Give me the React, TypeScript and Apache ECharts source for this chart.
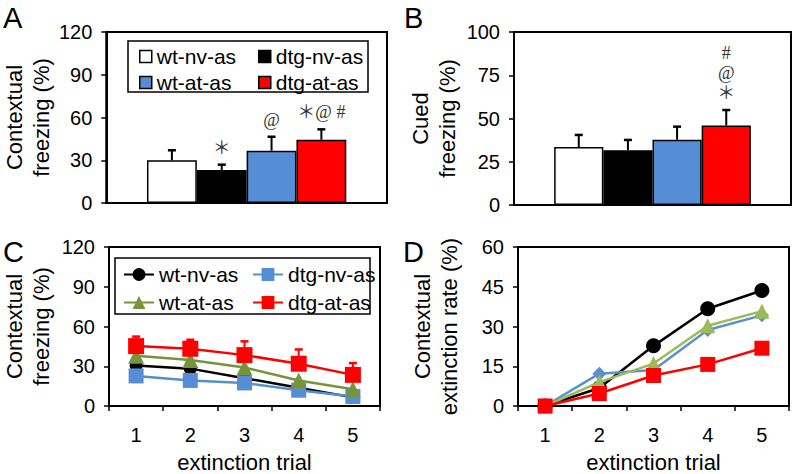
import React, { useEffect, useRef } from "react";
import * as echarts from "echarts";

const groups = ["wt-nv-as", "dtg-nv-as", "wt-at-as", "dtg-at-as"];
const barColors = ["#ffffff", "#000000", "#558ed5", "#ff0000"];
const contextualMean = [30, 23.2, 36.7, 44.4];
const contextualUpper = [37, 26.9, 46.5, 51.7];
const contextualMarks = ["", "＊", "@", "＊@ #"];
const cuedMean = [33.5, 31.6, 37.7, 46];
const cuedUpper = [40.5, 37.6, 45.3, 54.9];
const cuedMarks = ["", "", "", "#\n@\n＊"];

const trials = ["1", "2", "3", "4", "5"];
const freezeWtNv = [30.5, 28.2, 21, 13.8, 6.5];
const freezeDtgNv = [22.7, 19.3, 17.4, 11.9, 7.2];
const freezeWtAt = [37.9, 34.8, 29, 19.3, 12.6];
const freezeDtgAt = [45.2, 43.2, 38.4, 31.9, 23.5];
const freezeDtgAtUpper = [52.4, 50, 48.8, 42.7, 32.4];

const rateWtNv = [0, 6.8, 22.7, 36.7, 43.6];
const rateDtgNv = [0, 12.2, 13.6, 28.7, 34.2];
const rateWtAt = [0, 9.0, 16.0, 30.3, 35.8];
const rateDtgAt = [0, 4.7, 11.5, 15.7, 21.8];

const SANS = "Liberation Sans";
const SERIF = '"Liberation Serif", "Noto Sans CJK JP"';
const GAP = 0.29;

function barErrors(idx: number, means: number[], uppers: number[], marks: string[]) {
  return {
    type: "custom",
    xAxisIndex: idx,
    yAxisIndex: idx,
    z: 5,
    silent: true,
    data: means.map((m, i) => [0, m, uppers[i]]),
    renderItem: (params: any, api: any) => {
      const i = params.dataIndex;
      const base = api.coord([0, api.value(1)]);
      const top = api.coord([0, api.value(2)]);
      const band = api.size([1, 0])[0];
      const bw = (band * (1 - GAP)) / 4;
      const x = base[0] + (i - 1.5) * bw;
      const mark = marks[i];
      const children: any[] = [
        { type: "line", shape: { x1: x, y1: base[1], x2: x, y2: top[1] }, style: { stroke: "#000", lineWidth: 2 } },
        { type: "line", shape: { x1: x - 4, y1: top[1], x2: x + 4, y2: top[1] }, style: { stroke: "#000", lineWidth: 2.5 } },
      ];
      if (mark) {
        children.push({
          type: "text",
          style: {
            text: mark,
            x: x,
            y: top[1] - 7,
            align: "center",
            verticalAlign: "bottom",
            font: `18px ${SERIF}`,
            lineHeight: 20,
            fill: "#333",
          },
        });
      }
      return { type: "group", children };
    },
  };
}

function lineErrors(idx: number, means: number[], uppers: number[], color: string) {
  return {
    type: "custom",
    xAxisIndex: idx,
    yAxisIndex: idx,
    z: 1,
    silent: true,
    data: means.map((m, i) => [i, m, uppers[i]]),
    renderItem: (params: any, api: any) => {
      const base = api.coord([api.value(0), api.value(1)]);
      const top = api.coord([api.value(0), api.value(2)]);
      return {
        type: "group",
        children: [
          { type: "line", shape: { x1: base[0], y1: base[1], x2: base[0], y2: top[1] }, style: { stroke: color, lineWidth: 2 } },
          { type: "line", shape: { x1: base[0] - 4, y1: top[1], x2: base[0] + 4, y2: top[1] }, style: { stroke: color, lineWidth: 2.5 } },
        ],
      };
    },
  };
}

function yAxis(gridIndex: number, max: number, interval: number, name: string, nameGap: number) {
  return {
    type: "value",
    gridIndex,
    min: 0,
    max,
    interval,
    axisLine: { show: true, lineStyle: { color: "#000", width: 2 } },
    axisTick: { show: true, length: 5, lineStyle: { color: "#000", width: 1.5 } },
    axisLabel: { color: "#000", fontSize: 20, fontFamily: SANS, margin: 14 },
    splitLine: { show: false },
    name,
    nameLocation: "middle",
    nameGap,
    nameTextStyle: { fontSize: 22, lineHeight: 27, color: "#000", fontFamily: SANS },
  };
}

function xBarAxis(gridIndex: number) {
  return {
    type: "category",
    gridIndex,
    data: [""],
    axisLine: { show: true, lineStyle: { color: "#000", width: 2 } },
    axisTick: { show: false },
    axisLabel: { show: false },
  };
}

function xTrialAxis(gridIndex: number) {
  return {
    type: "category",
    gridIndex,
    data: trials,
    boundaryGap: true,
    axisLine: { show: true, lineStyle: { color: "#000", width: 2 } },
    axisTick: { show: true, length: 5, alignWithLabel: false, lineStyle: { color: "#000", width: 1.5 } },
    axisLabel: { color: "#000", fontSize: 20, fontFamily: SANS, margin: 19 },
    name: "extinction trial",
    nameLocation: "middle",
    nameGap: 45,
    nameTextStyle: { fontSize: 22, color: "#000", fontFamily: SANS },
  };
}

function legendAt(name: string, left: number, top: number, w: number, h: number, extra: any = {}) {
  return {
    data: [name],
    left,
    top,
    padding: 0,
    itemWidth: w,
    itemHeight: h,
    itemGap: 5,
    selectedMode: false,
    formatter: (n: string) => n.trim(),
    textStyle: { fontSize: 21, color: "#000", fontFamily: SANS },
    ...extra,
  };
}

const lineColorsC = ["#000000", "#558ed5", "#77933c", "#ff0000"];
const lineColorsD = ["#000000", "#5b8fd0", "#9bbb59", "#ff0000"];
const symbolsC = ["circle", "rect", "triangle", "rect"];
const symbolsD = ["circle", "diamond", "triangle", "rect"];
const symbolSizeC = [13, 15, 16, 16];
const symbolSizeD = [15, 14, 15, 15];

export default function App() {
  const ref = useRef<HTMLDivElement>(null);
  useEffect(() => {
    if (!ref.current) return;
    const chart = echarts.init(ref.current, null, { renderer: "svg" });
    const freezing = [freezeWtNv, freezeDtgNv, freezeWtAt, freezeDtgAt];
    const rates = [rateWtNv, rateDtgNv, rateWtAt, rateDtgAt];
    const gridBox = { show: true, borderColor: "#000", borderWidth: 2, backgroundColor: "transparent" };
    const barLegend = { icon: "rect", itemStyle: { borderColor: "#000", borderWidth: 1.5 } };
    const option: any = {
      animation: false,
      backgroundColor: "#fff",
      grid: [
        { left: 102, top: 32, width: 285, height: 171, ...gridBox },
        { left: 514, top: 32, width: 277, height: 173, ...gridBox },
        { left: 105, top: 247, width: 275, height: 166, ...gridBox },
        { left: 518, top: 247, width: 271, height: 166, ...gridBox },
      ],
      xAxis: [xBarAxis(0), xBarAxis(1), xTrialAxis(2), xTrialAxis(3)],
      yAxis: [
        yAxis(0, 120, 30, "Contextual\nfreezing (%)", 49),
        yAxis(1, 100, 25, "Cued\nfreezing (%)", 53),
        yAxis(2, 120, 30, "Contextual\nfreezing (%)", 54),
        yAxis(3, 60, 15, "Contextual\nextinction rate (%)", 55),
      ],
      legend: [
        legendAt(groups[0], 139, 46, 12, 12, barLegend),
        legendAt(groups[1], 258, 46, 12, 12, barLegend),
        legendAt(groups[2], 139, 72, 12, 12, barLegend),
        legendAt(groups[3], 258, 72, 12, 12, barLegend),
        legendAt(groups[0] + " ", 123, 264, 30, 16),
        legendAt(groups[1] + " ", 252, 264, 30, 16),
        legendAt(groups[2] + " ", 123, 292, 30, 16),
        legendAt(groups[3] + " ", 252, 292, 30, 16),
      ],
      graphic: [
        { type: "rect", shape: { x: 128, y: 41, width: 240, height: 51 }, style: { fill: "#fff", stroke: "#000", lineWidth: 1.5 }, z: -1 },
        { type: "rect", shape: { x: 115, y: 258, width: 255, height: 56 }, style: { fill: "#fff", stroke: "#000", lineWidth: 1.5 }, z: -1 },
        { type: "text", x: 3, y: 18, style: { text: "A", font: `29px "${SANS}"`, fill: "#000", verticalAlign: "middle" } },
        { type: "text", x: 404, y: 18, style: { text: "B", font: `29px "${SANS}"`, fill: "#000", verticalAlign: "middle" } },
        { type: "text", x: 3, y: 252, style: { text: "C", font: `29px "${SANS}"`, fill: "#000", verticalAlign: "middle" } },
        { type: "text", x: 403, y: 252, style: { text: "D", font: `29px "${SANS}"`, fill: "#000", verticalAlign: "middle" } },
      ],
      series: [
        ...groups.map((g, i) => ({
          type: "bar",
          name: g,
          xAxisIndex: 0,
          yAxisIndex: 0,
          data: [contextualMean[i]],
          barGap: "0%",
          barCategoryGap: "29%",
          itemStyle: { color: barColors[i], borderColor: "#000", borderWidth: 1.5 },
          z: 2,
        })),
        ...groups.map((g, i) => ({
          type: "bar",
          name: g,
          xAxisIndex: 1,
          yAxisIndex: 1,
          data: [cuedMean[i]],
          barGap: "0%",
          barCategoryGap: "29%",
          itemStyle: { color: barColors[i], borderColor: "#000", borderWidth: 1.5 },
          z: 2,
        })),
        barErrors(0, contextualMean, contextualUpper, contextualMarks),
        barErrors(1, cuedMean, cuedUpper, cuedMarks),
        lineErrors(2, freezeDtgAt, freezeDtgAtUpper, "#ff0000"),
        ...groups.map((g, i) => ({
          type: "line",
          name: g + " ",
          xAxisIndex: 2,
          yAxisIndex: 2,
          data: freezing[i],
          symbol: symbolsC[i],
          symbolSize: symbolSizeC[i],
          lineStyle: { color: lineColorsC[i], width: 2.5 },
          itemStyle: { color: lineColorsC[i] },
          z: 2 + i,
        })),
        ...groups.map((g, i) => ({
          type: "line",
          name: g + "  ",
          xAxisIndex: 3,
          yAxisIndex: 3,
          data: rates[i],
          symbol: symbolsD[i],
          symbolSize: symbolSizeD[i],
          lineStyle: { color: lineColorsD[i], width: 2.5 },
          itemStyle: { color: lineColorsD[i] },
          z: 2 + i,
        })),
      ],
    };
    chart.setOption(option);
    return () => chart.dispose();
  }, []);
  return (
    <div
      ref={ref}
      style={{ position: "absolute", left: 0, top: 0, width: 799, height: 474 }}
    />
  );
}
